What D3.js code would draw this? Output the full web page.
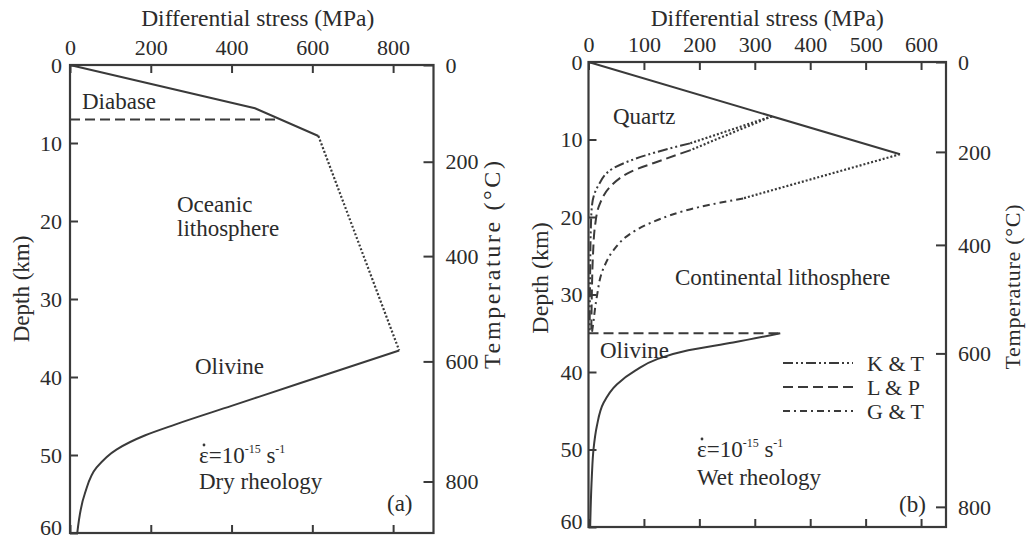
<!DOCTYPE html>
<html>
<head>
<meta charset="utf-8">
<script src="https://cdn.jsdelivr.net/npm/d3@7"></script>
<style>
body { margin: 0; background: #fff; }
svg text { font-family: "Liberation Serif", "Times New Roman", serif; fill: #2b2b2b; }
</style>
</head>
<body>
<svg id="chart" width="1027" height="540"></svg>
<script>
// tick values
var stressTicksA = [0, 200, 400, 600, 800];
var stressTicksB = [0, 100, 200, 300, 400, 500, 600];
var depthTicks = [0, 10, 20, 30, 40, 50, 60];
var tempTicks = [0, 200, 400, 600, 800];
// depth (km) where each temperature tick sits
var tempDepthA = [0, 12.4, 24.5, 38.0, 53.4];
var tempDepthB = [0, 11.6, 23.6, 37.6, 57.4];

// (a) dry rheology, points are [stress MPa, depth km]
var diabaseA = [[0, 0], [458, 5.55], [615, 9.1]];
var diabaseBaseA = [[0, 7], [518, 7]];
var brittleA = [[615, 9.1], [815, 36.6]];
var olivineA = [[815, 36.6], [569, 40.8], [400, 43.7], [260, 46.1], [185, 47.5], [115, 49.3], [66, 51.6], [37, 54.9], [18, 60]];

// (b) wet rheology
var quartzB = [[0, 0], [562, 11.9]];
var ktDotB = [[331, 7.0], [183, 10.5]];
var ktB = [[183, 10.5], [105, 12.0], [45, 13.7], [18, 15.9], [6, 18.7], [4, 22], [3, 27], [2, 35]];
var lpDotB = [[331, 7.0], [183, 11.4]];
var lpB = [[183, 11.4], [135, 12.6], [75, 14.2], [39, 16.1], [21, 18.2], [12, 21], [8, 25], [6, 30], [5, 35]];
var gtDotB = [[562, 11.9], [279, 17.6]];
var gtB = [[279, 17.6], [201, 18.7], [111, 20.8], [69, 22.5], [45, 24.3], [26, 26.8], [15, 30.3], [8, 34], [6, 35]];
var mohoB = [[0, 35], [346, 35]];
var olivineB = [[346, 35], [261, 36.2], [180, 37.2], [125, 38.3], [85, 39.8], [51, 41.6], [27, 44], [15, 47], [9, 50], [6, 53.5], [3, 60]];

var legendNames = ["K & T", "L & P", "G & T"];

var ink = "#3a3a3a";
var dash = {
    solid: null,
    dashed: "10,5",
    dotted: "2,2",
    kt: "10,3,2,3,2,3",
    gt: "7,4,2,4"
};

var svg = d3.select("#chart");

function drawPanel(opt) {
    var x = d3.scaleLinear().domain(opt.xDomain).range([opt.left, opt.right]);
    var y = d3.scaleLinear().domain([0, 60]).range([opt.top, opt.bottom]);
    var t = d3.scaleLinear().domain(tempTicks).range(opt.tempDepth.map(y));
    var g = svg.append("g");

    // curves
    var line = d3.line().x(function (d) { return x(d[0]); }).y(function (d) { return y(d[1]); });
    opt.curves.forEach(function (c) {
        line.curve(c.smooth ? d3.curveMonotoneY : d3.curveLinear);
        g.append("path")
            .attr("d", line(c.data))
            .attr("fill", "none")
            .attr("stroke", ink)
            .attr("stroke-width", c.style == "dotted" ? 2.2 : 2)
            .attr("stroke-dasharray", dash[c.style]);
    });

    // axes, ticks point inward
    var top = g.append("g").attr("transform", "translate(0," + opt.top + ")")
        .call(d3.axisTop(x).tickValues(opt.xTicks).tickSize(-8).tickPadding(10));
    var bottom = g.append("g").attr("transform", "translate(0," + opt.bottom + ")")
        .call(d3.axisBottom(x).tickValues(opt.xTicks).tickSize(-8).tickFormat(""));
    var left = g.append("g").attr("transform", "translate(" + opt.left + ",0)")
        .call(d3.axisLeft(y).tickValues(depthTicks).tickSize(-8).tickPadding(opt.leftPad));
    var right = g.append("g").attr("transform", "translate(" + opt.right + ",0)")
        .call(d3.axisRight(t).tickValues(tempTicks).tickSize(-10).tickPadding(12));
    [top, bottom, left, right].forEach(function (a) {
        a.select(".domain").remove();
        a.selectAll(".tick line").attr("stroke", ink).attr("stroke-width", 2);
        a.selectAll(".tick text").attr("font-size", 22).attr("font-family", null).style("fill", "#2b2b2b");
    });
    left.selectAll(".tick text").attr("dy", "0.33em");
    right.selectAll(".tick text").attr("dy", "0.33em");
    // keep the bottom depth label inside the picture
    left.selectAll(".tick text").filter(function (d) { return d == 60; }).attr("dy", "0.08em");

    g.append("rect")
        .attr("x", opt.left).attr("y", opt.top)
        .attr("width", opt.right - opt.left).attr("height", opt.bottom - opt.top)
        .attr("fill", "none").attr("stroke", ink).attr("stroke-width", 2.2);

    // axis titles
    g.append("text").attr("x", (opt.left + opt.right) / 2 + opt.titleShift).attr("y", 26)
        .attr("text-anchor", "middle").attr("font-size", 23.5).text("Differential stress (MPa)");
    g.append("text").attr("transform", "translate(" + opt.depthX + "," + opt.depthY + ") rotate(-90)")
        .attr("text-anchor", "middle").attr("dy", "0.35em").attr("font-size", opt.depthSize).text("Depth (km)");
    g.append("text").attr("transform", "translate(" + opt.tempX + "," + opt.tempY + ") rotate(-90)")
        .attr("text-anchor", "middle").attr("dy", "0.35em").attr("font-size", opt.tempSize)
        .attr("textLength", opt.tempLength).attr("lengthAdjust", "spacing")
        .text("Temperature (°C)");

    // annotations
    opt.notes.forEach(function (n) {
        g.append("text").attr("x", n[0]).attr("y", n[1]).attr("font-size", 23).text(n[2]);
    });

    // strain rate
    var sr = g.append("text").attr("x", opt.rate[0]).attr("y", opt.rate[1]).attr("font-size", 23);
    sr.append("tspan").text("ε=10");
    sr.append("tspan").attr("font-size", 12).attr("dy", -10).text("-15");
    sr.append("tspan").attr("dy", 10).text(" s");
    sr.append("tspan").attr("font-size", 12).attr("dy", -10).text("-1");
    g.append("circle").attr("cx", opt.rate[0] + 5).attr("cy", opt.rate[1] - 18).attr("r", 1.4).attr("fill", ink);

    return { g: g, x: x, y: y };
}

drawPanel({
    xDomain: [0, 900], left: 70, right: 433.5, top: 65, bottom: 533,
    xTicks: stressTicksA, tempDepth: tempDepthA, leftPad: 8, titleShift: 6,
    depthX: 21, depthY: 289, depthSize: 23,
    tempX: 492, tempY: 265, tempSize: 24, tempLength: 208,
    curves: [
        { data: diabaseA, style: "solid" },
        { data: diabaseBaseA, style: "dashed" },
        { data: brittleA, style: "dotted" },
        { data: olivineA, style: "solid", smooth: true }
    ],
    notes: [[82, 109, "Diabase"], [177, 212, "Oceanic"], [177, 236, "lithosphere"],
        [195, 374, "Olivine"], [199, 489, "Dry rheology"], [387, 511, "(a)"]],
    rate: [199, 463]
});

var b = drawPanel({
    xDomain: [0, 645], left: 588.5, right: 946, top: 62, bottom: 527,
    xTicks: stressTicksB, tempDepth: tempDepthB, leftPad: 6, titleShift: 0,
    depthX: 540, depthY: 278, depthSize: 24,
    tempX: 1012, tempY: 287, tempSize: 22, tempLength: 165,
    curves: [
        { data: quartzB, style: "solid" },
        { data: ktDotB, style: "dotted" },
        { data: ktB, style: "kt", smooth: true },
        { data: lpDotB, style: "dotted" },
        { data: lpB, style: "dashed", smooth: true },
        { data: gtDotB, style: "dotted" },
        { data: gtB, style: "gt", smooth: true },
        { data: mohoB, style: "dashed" },
        { data: olivineB, style: "solid", smooth: true }
    ],
    notes: [[613, 124, "Quartz"], [675, 285, "Continental lithosphere"],
        [600, 358, "Olivine"], [697, 485, "Wet rheology"], [899, 512, "(b)"]],
    rate: [697, 457]
});

// legend for panel (b)
var legend = b.g.selectAll(".legend").data(legendNames).enter().append("g")
    .attr("class", "legend")
    .attr("transform", function (d, i) { return "translate(783," + (363 + i * 24) + ")"; });
legend.append("line")
    .attr("x1", 0).attr("x2", 70).attr("y1", 0).attr("y2", 0)
    .attr("stroke", ink).attr("stroke-width", 2)
    .attr("stroke-dasharray", function (d, i) { return [dash.kt, dash.dashed, dash.gt][i]; });
legend.append("text").attr("x", 84).attr("dy", "0.35em").attr("font-size", 22).text(function (d) { return d; });
</script>
</body>
</html>
